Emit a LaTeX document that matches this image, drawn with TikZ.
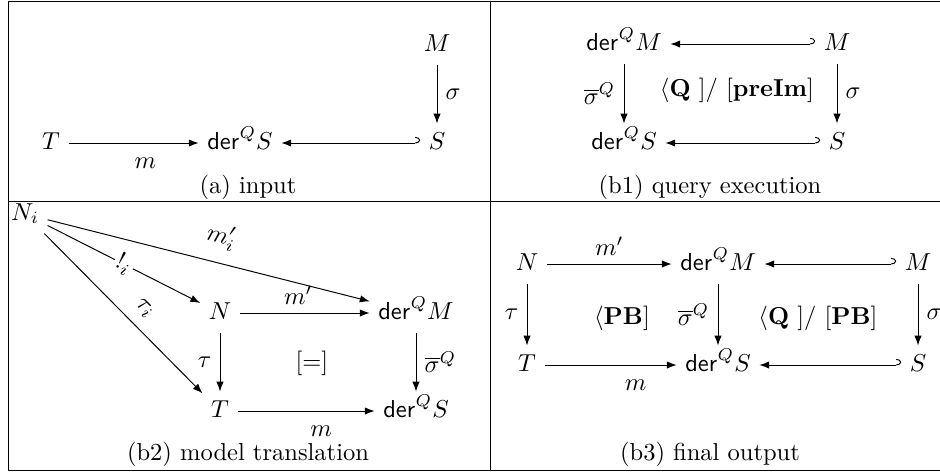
\documentclass[tikz,border=0pt]{standalone}
\usepackage{amsmath,amssymb}
\usetikzlibrary{arrows.meta}
\newcommand{\derQ}{\mathsf{der}^{Q}}

\begin{document}
\begin{tikzpicture}[x=0.408pt, y=-0.408pt,
  obj/.style={text height=1.6ex, text depth=.45ex},
  arr/.style={-{Latex[length=4pt, width=3pt]}},
  incl/.style={{Hooks[left, length=2pt, width=5pt]}-{Latex[length=4pt, width=3pt]}}]

\useasboundingbox (0,0) rectangle (940,473);

% Table frame (right edge is cut off)
\draw (8,1) -- (940,1);
\draw (940,470) -- (8,470) -- (8,1);
\draw (490,1) -- (490,470);
\draw (8,201) -- (940,201);

% ================================================================
% (a) input
% ================================================================
\node[obj] (aT) at (51,143) {$T$};
\node[obj] (aD) at (240,143) {$\derQ S$};
\node[obj] (aS) at (437,143) {$S$};
\node[obj] (aM) at (437,45) {$M$};

\draw[arr] (aT) -- node[below=2.5pt, pos=.59] {$m$} (aD);
\draw[incl] (aS) -- (aD);
\draw[arr] (aM) -- node[right] {$\sigma$} (aS);

\node (acap) at (248,187) {(a) input};

% ================================================================
% (b1) query execution
% ================================================================
\node[obj] (qDM) at (624,44) {$\derQ M$};
\node[obj] (qM) at (837,44) {$M$};
\node[obj] (qDS) at (624,143) {$\derQ S$};
\node[obj] (qS) at (837,143) {$S$};

\draw[incl] (qM) -- (qDM);
\draw[incl] (qS) -- (qDS);
\draw[arr] (qDM) -- node[left] {$\overline{\sigma}^{Q}$} (qDS);
\draw[arr] (qM) -- node[right] {$\sigma$} (qS);
\node (qsq) at (737,90) {$\langle\mathbf{Q}\ ]/\ [\mathbf{preIm}]$};

\node (qcap) at (710,187) {(b1) query execution};

% ================================================================
% (b2) model translation
% ================================================================
\node[obj] (Ni) at (25,214) {$N_i$};
\node[obj] (tN) at (220,313) {$N$};
\node[obj] (tDM) at (416,313) {$\derQ M$};
\node[obj] (tT) at (220,411) {$T$};
\node[obj] (tDS) at (416,411) {$\derQ S$};

\draw[arr] (Ni) -- node[above=2pt, sloped, pos=.52] {$m_i'$} (tDM);
\draw[arr] (Ni) -- node[sloped, fill=white, inner sep=1pt, pos=.5] {$!_i$} (tN);
\draw[arr] (Ni) -- node[above=1pt, sloped, pos=.55] {$\tau_i$} (tT);
\draw[arr] (tN) -- node[above, pos=.45] {$m'$} (tDM);
\draw[arr] (tN) -- node[left] {$\tau$} (tT);
\draw[arr] (tDM) -- node[right] {$\overline{\sigma}^{Q}$} (tDS);
\draw[arr] (tT) -- node[below=2.5pt, pos=.61] {$m$} (tDS);
\node (tsq) at (312,363) {$[=]$};

\node (tcap) at (248,454) {(b2) model translation};

% ================================================================
% (b3) final output
% ================================================================
\node[obj] (oN) at (527,264) {$N$};
\node[obj] (oDM) at (718,264) {$\derQ M$};
\node[obj] (oM) at (918,264) {$M$};
\node[obj] (oT) at (527,365) {$T$};
\node[obj] (oDS) at (718,365) {$\derQ S$};
\node[obj] (oS) at (918,365) {$S$};

\draw[arr] (oN) -- node[above] {$m'$} (oDM);
\draw[incl] (oM) -- (oDM);
\draw[arr] (oT) -- node[below=2.5pt, pos=.69] {$m$} (oDS);
\draw[incl] (oS) -- (oDS);
\draw[arr] (oN) -- node[left] {$\tau$} (oT);
\draw[arr] (oDM) -- node[left] {$\overline{\sigma}^{Q}$} (oDS);
\draw[arr] (oM) -- node[right] {$\sigma$} (oS);
\node (opb) at (622,318) {$\langle\mathbf{PB}]$};
\node (oqpb) at (818,318) {$\langle\mathbf{Q}\ ]/\ [\mathbf{PB}]$};

\node (ocap) at (710,454) {(b3) final output};

\end{tikzpicture}
\end{document}
